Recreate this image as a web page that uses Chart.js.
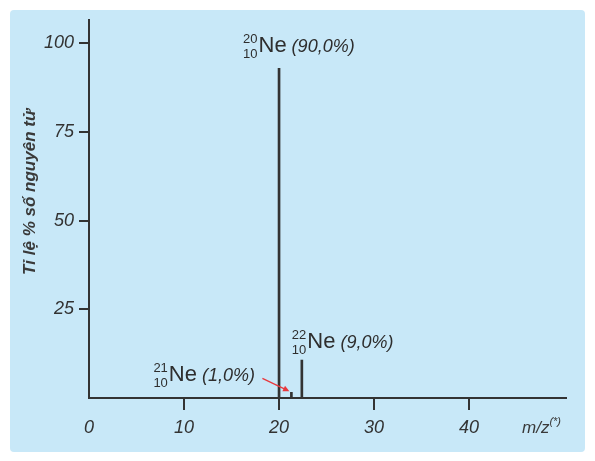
<!DOCTYPE html>
<html>
<head>
<meta charset="utf-8">
<script src="https://cdn.jsdelivr.net/npm/chart.js@4.4.1/dist/chart.umd.min.js"></script>
<style>
  html, body { margin: 0; padding: 0; background: #fff; }
  #panel { position: absolute; left: 10px; top: 10px; width: 575px; height: 442px; background: #c8e8f8; border-radius: 4px; }
  #chart { position: absolute; left: 0; top: 0; }
</style>
</head>
<body>
<div id="panel"></div>
<canvas id="chart" width="595" height="461"></canvas>
<script>
// m/z of the three neon peaks, as placed in the picture
const massNumbers = [20, 21.3, 22.4];
// peak heights read against the y axis
const abundance = [93, 1.6, 10.7];
const isotopeMass = ['20', '21', '22'];
const atomicNumber = '10';
const percentLabels = ['(90,0%)', '(1,0%)', '(9,0%)'];
const xTicks = [0, 10, 20, 30, 40];
const yTicks = [25, 50, 75, 100];

const ink = '#333333';
const family = "'Liberation Sans', Arial, sans-serif";

// where each isotope label sits relative to the top of its peak
const labelOffsets = [
    { dx: -36, dy: -16 },
    { dx: -138, dy: -11 },
    { dx: -10, dy: -12 },
];

function drawIsotope(ctx, x, baseline, mass, z, pct) {
    ctx.fillStyle = '#2e2e2e';
    ctx.textBaseline = 'alphabetic';
    ctx.font = '13px ' + family;
    let w = Math.max(ctx.measureText(mass).width, ctx.measureText(z).width);
    ctx.textAlign = 'right';
    ctx.fillText(mass, x + w, baseline - 9);
    ctx.fillText(z, x + w, baseline + 6);
    ctx.textAlign = 'left';
    ctx.font = '22px ' + family;
    let nx = x + w + 1;
    ctx.fillText('Ne', nx, baseline);
    let px = nx + ctx.measureText('Ne').width + 5;
    ctx.font = 'italic 18px ' + family;
    ctx.fillText(pct, px, baseline);
}

const peakLabels = {
    id: 'peakLabels',
    afterDatasetsDraw(chart) {
        const ctx = chart.ctx;
        const bars = chart.getDatasetMeta(0).data;
        ctx.save();

        bars.forEach((bar, i) => {
            let off = labelOffsets[i];
            drawIsotope(ctx, bar.x + off.dx, bar.y + off.dy, isotopeMass[i], atomicNumber, percentLabels[i]);
        });

        // red pointer to the small 21Ne peak
        let b = bars[1];
        let x1 = b.x - 29, y1 = b.y - 14;
        let x2 = b.x - 2, y2 = b.y - 1;
        let ang = Math.atan2(y2 - y1, x2 - x1);
        ctx.strokeStyle = '#e8383d';
        ctx.fillStyle = '#e8383d';
        ctx.lineWidth = 1.3;
        ctx.beginPath();
        ctx.moveTo(x1, y1);
        ctx.lineTo(x2 - 5 * Math.cos(ang), y2 - 5 * Math.sin(ang));
        ctx.stroke();
        ctx.beginPath();
        ctx.moveTo(x2, y2);
        ctx.lineTo(x2 - 7 * Math.cos(ang - 0.45), y2 - 7 * Math.sin(ang - 0.45));
        ctx.lineTo(x2 - 7 * Math.cos(ang + 0.45), y2 - 7 * Math.sin(ang + 0.45));
        ctx.closePath();
        ctx.fill();

        // axis titles
        ctx.fillStyle = '#3a3a3a';
        ctx.save();
        ctx.translate(30, 192);
        ctx.rotate(-Math.PI / 2);
        ctx.textAlign = 'center';
        ctx.textBaseline = 'middle';
        ctx.font = 'italic bold 17px ' + family;
        ctx.fillText('Tỉ lệ % số nguyên tử', 0, 0);
        ctx.restore();

        ctx.textAlign = 'left';
        ctx.textBaseline = 'alphabetic';
        ctx.font = 'italic 17px ' + family;
        ctx.fillText('m/z', 522, 433);
        let mw = ctx.measureText('m/z').width;
        ctx.font = 'italic 11px ' + family;
        ctx.fillText('(*)', 522 + mw, 425);

        ctx.restore();
    }
};

new Chart(document.getElementById('chart'), {
    type: 'bar',
    data: {
        datasets: [{
            data: massNumbers.map((m, i) => ({ x: m, y: abundance[i] })),
            backgroundColor: ink,
            borderWidth: 0,
            barThickness: 2,
        }]
    },
    options: {
        responsive: false,
        animation: false,
        layout: { padding: { left: 0, top: 20, right: 29, bottom: 0 } },
        plugins: {
            legend: { display: false },
            tooltip: { enabled: false },
        },
        scales: {
            x: {
                type: 'linear',
                min: 0,
                max: 50.2,
                offset: false,
                afterBuildTicks: s => { s.ticks = xTicks.map(v => ({ value: v })); },
                afterFit: s => { s.height = 63; },
                grid: {
                    display: true,
                    offset: false,
                    drawOnChartArea: false,
                    drawTicks: true,
                    tickLength: 12,
                    lineWidth: 2,
                    color: c => (c.tick && c.tick.value === 0) ? 'rgba(0,0,0,0)' : ink,
                },
                border: { display: true, color: ink, width: 2 },
                ticks: {
                    padding: 7,
                    color: ink,
                    maxRotation: 0,
                    autoSkip: false,
                    font: { family: family, size: 18, style: 'italic' },
                },
            },
            y: {
                min: 0,
                max: 106.6,
                afterBuildTicks: s => { s.ticks = yTicks.map(v => ({ value: v })); },
                afterFit: s => { s.width = 89; },
                grid: {
                    display: true,
                    drawOnChartArea: false,
                    drawTicks: true,
                    tickLength: 10,
                    lineWidth: 2,
                    color: ink,
                },
                border: { display: true, color: ink, width: 2 },
                ticks: {
                    padding: 5,
                    color: ink,
                    font: { family: family, size: 18, style: 'italic' },
                },
            },
        },
    },
    plugins: [peakLabels],
});
</script>
</body>
</html>
